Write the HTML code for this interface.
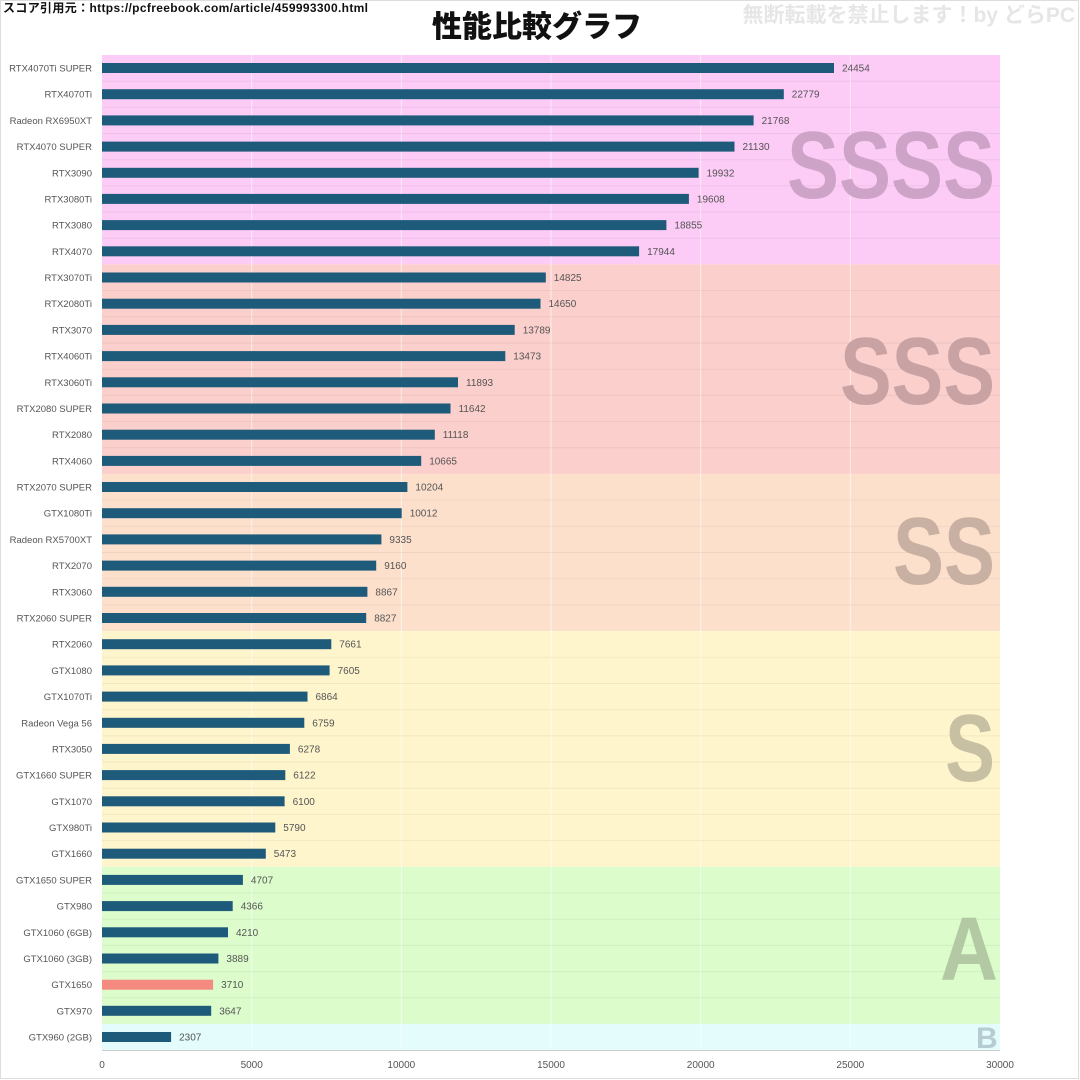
<!DOCTYPE html>
<html><head><meta charset="utf-8"><style>
html,body{margin:0;padding:0;background:#fff}
svg{display:block}
</style></head><body>
<svg width="1080" height="1080" viewBox="0 0 1080 1080" xmlns="http://www.w3.org/2000/svg">
<rect x="0.5" y="0.5" width="1078" height="1078" fill="#fff" stroke="#ddd"/>
<text x="3" y="12" font-family="Liberation Sans, Noto Sans CJK JP, sans-serif" font-size="12" font-weight="bold" fill="#111" textLength="365">スコア引用元：https://pcfreebook.com/article/459993300.html</text>
<text x="537" y="37" text-anchor="middle" font-family="Liberation Sans, Noto Sans CJK JP, sans-serif" font-size="30" font-weight="900" fill="#111">性能比較グラフ</text>
<text x="1075" y="22" text-anchor="end" font-family="Liberation Sans, Noto Sans CJK JP, sans-serif" font-size="21" font-weight="bold" fill="#e6e6e6">無断転載を禁止します！by どらPC</text>
<rect x="102" y="55" width="898" height="209.4" fill="#fccbf6"/>
<rect x="102" y="264.4" width="898" height="209.5" fill="#fbcfcc"/>
<rect x="102" y="473.9" width="898" height="157.2" fill="#fde0cc"/>
<rect x="102" y="631.1" width="898" height="235.7" fill="#fef5cc"/>
<rect x="102" y="866.8" width="898" height="157.1" fill="#dcfccc"/>
<rect x="102" y="1023.9" width="898" height="26.1" fill="#e4fcfc"/>
<g stroke="#ffffff" stroke-opacity="0.6" stroke-width="1">
<line x1="251.7" y1="55" x2="251.7" y2="1050"/><line x1="401.3" y1="55" x2="401.3" y2="1050"/><line x1="551" y1="55" x2="551" y2="1050"/><line x1="700.7" y1="55" x2="700.7" y2="1050"/><line x1="850.3" y1="55" x2="850.3" y2="1050"/>
</g>
<g stroke="#000" stroke-opacity="0.05" stroke-width="1">
<line x1="102" y1="81.1" x2="1000" y2="81.1"/><line x1="102" y1="107.3" x2="1000" y2="107.3"/><line x1="102" y1="133.5" x2="1000" y2="133.5"/><line x1="102" y1="159.7" x2="1000" y2="159.7"/><line x1="102" y1="185.9" x2="1000" y2="185.9"/><line x1="102" y1="212" x2="1000" y2="212"/><line x1="102" y1="238.2" x2="1000" y2="238.2"/><line x1="102" y1="290.6" x2="1000" y2="290.6"/><line x1="102" y1="316.8" x2="1000" y2="316.8"/><line x1="102" y1="343" x2="1000" y2="343"/><line x1="102" y1="369.2" x2="1000" y2="369.2"/><line x1="102" y1="395.4" x2="1000" y2="395.4"/><line x1="102" y1="421.6" x2="1000" y2="421.6"/><line x1="102" y1="447.8" x2="1000" y2="447.8"/><line x1="102" y1="500.1" x2="1000" y2="500.1"/><line x1="102" y1="526.3" x2="1000" y2="526.3"/><line x1="102" y1="552.5" x2="1000" y2="552.5"/><line x1="102" y1="578.7" x2="1000" y2="578.7"/><line x1="102" y1="604.9" x2="1000" y2="604.9"/><line x1="102" y1="657.3" x2="1000" y2="657.3"/><line x1="102" y1="683.5" x2="1000" y2="683.5"/><line x1="102" y1="709.7" x2="1000" y2="709.7"/><line x1="102" y1="735.9" x2="1000" y2="735.9"/><line x1="102" y1="762" x2="1000" y2="762"/><line x1="102" y1="788.2" x2="1000" y2="788.2"/><line x1="102" y1="814.4" x2="1000" y2="814.4"/><line x1="102" y1="840.6" x2="1000" y2="840.6"/><line x1="102" y1="893" x2="1000" y2="893"/><line x1="102" y1="919.2" x2="1000" y2="919.2"/><line x1="102" y1="945.4" x2="1000" y2="945.4"/><line x1="102" y1="971.6" x2="1000" y2="971.6"/><line x1="102" y1="997.8" x2="1000" y2="997.8"/>
</g>
<line x1="102" y1="1050.5" x2="1000" y2="1050.5" stroke="#ccc"/>
<g font-family="Liberation Sans, sans-serif" font-weight="bold">
<text x="787" y="198" font-size="96" fill="#cda3c8" textLength="208" lengthAdjust="spacingAndGlyphs">SSSS</text>
<text x="840" y="404" font-size="96" fill="#c9a3a3" textLength="155" lengthAdjust="spacingAndGlyphs">SSS</text>
<text x="893" y="584" font-size="96" fill="#c8b0a2" textLength="102" lengthAdjust="spacingAndGlyphs">SS</text>
<text x="945" y="781" font-size="96" fill="#c8c0a2" textLength="50" lengthAdjust="spacingAndGlyphs">S</text>
<text x="940" y="980" font-size="90" fill="#b2c9a4" textLength="58" lengthAdjust="spacingAndGlyphs">A</text>
<text x="976" y="1048" font-size="30" fill="#b6ccd2">B</text>
</g>
<g fill="#1e5a7a">
<rect x="102" y="63" width="732" height="10"/>
<rect x="102" y="89.2" width="681.8" height="10"/>
<rect x="102" y="115.4" width="651.6" height="10"/>
<rect x="102" y="141.6" width="632.5" height="10"/>
<rect x="102" y="167.8" width="596.6" height="10"/>
<rect x="102" y="193.9" width="586.9" height="10"/>
<rect x="102" y="220.1" width="564.4" height="10"/>
<rect x="102" y="246.3" width="537.1" height="10"/>
<rect x="102" y="272.5" width="443.8" height="10"/>
<rect x="102" y="298.7" width="438.5" height="10"/>
<rect x="102" y="324.9" width="412.7" height="10"/>
<rect x="102" y="351.1" width="403.3" height="10"/>
<rect x="102" y="377.3" width="356" height="10"/>
<rect x="102" y="403.5" width="348.5" height="10"/>
<rect x="102" y="429.7" width="332.8" height="10"/>
<rect x="102" y="455.9" width="319.2" height="10"/>
<rect x="102" y="482" width="305.4" height="10"/>
<rect x="102" y="508.2" width="299.7" height="10"/>
<rect x="102" y="534.4" width="279.4" height="10"/>
<rect x="102" y="560.6" width="274.2" height="10"/>
<rect x="102" y="586.8" width="265.4" height="10"/>
<rect x="102" y="613" width="264.2" height="10"/>
<rect x="102" y="639.2" width="229.3" height="10"/>
<rect x="102" y="665.4" width="227.6" height="10"/>
<rect x="102" y="691.6" width="205.5" height="10"/>
<rect x="102" y="717.8" width="202.3" height="10"/>
<rect x="102" y="743.9" width="187.9" height="10"/>
<rect x="102" y="770.1" width="183.3" height="10"/>
<rect x="102" y="796.3" width="182.6" height="10"/>
<rect x="102" y="822.5" width="173.3" height="10"/>
<rect x="102" y="848.7" width="163.8" height="10"/>
<rect x="102" y="874.9" width="140.9" height="10"/>
<rect x="102" y="901.1" width="130.7" height="10"/>
<rect x="102" y="927.3" width="126" height="10"/>
<rect x="102" y="953.5" width="116.4" height="10"/>
<rect x="102" y="979.7" width="111.1" height="10" fill="#f58a80"/>
<rect x="102" y="1005.8" width="109.2" height="10"/>
<rect x="102" y="1032" width="69.1" height="10"/>
</g>
<g font-family="Liberation Sans, sans-serif" font-size="9.5" fill="#555" text-anchor="end">
<text x="92" y="71.5">RTX4070Ti SUPER</text>
<text x="92" y="97.7">RTX4070Ti</text>
<text x="92" y="123.9">Radeon RX6950XT</text>
<text x="92" y="150.1">RTX4070 SUPER</text>
<text x="92" y="176.3">RTX3090</text>
<text x="92" y="202.4">RTX3080Ti</text>
<text x="92" y="228.6">RTX3080</text>
<text x="92" y="254.8">RTX4070</text>
<text x="92" y="281">RTX3070Ti</text>
<text x="92" y="307.2">RTX2080Ti</text>
<text x="92" y="333.4">RTX3070</text>
<text x="92" y="359.6">RTX4060Ti</text>
<text x="92" y="385.8">RTX3060Ti</text>
<text x="92" y="412">RTX2080 SUPER</text>
<text x="92" y="438.2">RTX2080</text>
<text x="92" y="464.4">RTX4060</text>
<text x="92" y="490.5">RTX2070 SUPER</text>
<text x="92" y="516.7">GTX1080Ti</text>
<text x="92" y="542.9">Radeon RX5700XT</text>
<text x="92" y="569.1">RTX2070</text>
<text x="92" y="595.3">RTX3060</text>
<text x="92" y="621.5">RTX2060 SUPER</text>
<text x="92" y="647.7">RTX2060</text>
<text x="92" y="673.9">GTX1080</text>
<text x="92" y="700.1">GTX1070Ti</text>
<text x="92" y="726.3">Radeon Vega 56</text>
<text x="92" y="752.4">RTX3050</text>
<text x="92" y="778.6">GTX1660 SUPER</text>
<text x="92" y="804.8">GTX1070</text>
<text x="92" y="831">GTX980Ti</text>
<text x="92" y="857.2">GTX1660</text>
<text x="92" y="883.4">GTX1650 SUPER</text>
<text x="92" y="909.6">GTX980</text>
<text x="92" y="935.8">GTX1060 (6GB)</text>
<text x="92" y="962">GTX1060 (3GB)</text>
<text x="92" y="988.2">GTX1650</text>
<text x="92" y="1014.3">GTX970</text>
<text x="92" y="1040.5">GTX960 (2GB)</text>
</g>
<g font-family="Liberation Sans, sans-serif" font-size="10" fill="#555">
<text x="842" y="71.5">24454</text>
<text x="791.8" y="97.7">22779</text>
<text x="761.6" y="123.9">21768</text>
<text x="742.5" y="150.1">21130</text>
<text x="706.6" y="176.3">19932</text>
<text x="696.9" y="202.4">19608</text>
<text x="674.4" y="228.6">18855</text>
<text x="647.1" y="254.8">17944</text>
<text x="553.8" y="281">14825</text>
<text x="548.5" y="307.2">14650</text>
<text x="522.7" y="333.4">13789</text>
<text x="513.3" y="359.6">13473</text>
<text x="466" y="385.8">11893</text>
<text x="458.5" y="412">11642</text>
<text x="442.8" y="438.2">11118</text>
<text x="429.2" y="464.4">10665</text>
<text x="415.4" y="490.5">10204</text>
<text x="409.7" y="516.7">10012</text>
<text x="389.4" y="542.9">9335</text>
<text x="384.2" y="569.1">9160</text>
<text x="375.4" y="595.3">8867</text>
<text x="374.2" y="621.5">8827</text>
<text x="339.3" y="647.7">7661</text>
<text x="337.6" y="673.9">7605</text>
<text x="315.5" y="700.1">6864</text>
<text x="312.3" y="726.3">6759</text>
<text x="297.9" y="752.4">6278</text>
<text x="293.3" y="778.6">6122</text>
<text x="292.6" y="804.8">6100</text>
<text x="283.3" y="831">5790</text>
<text x="273.8" y="857.2">5473</text>
<text x="250.9" y="883.4">4707</text>
<text x="240.7" y="909.6">4366</text>
<text x="236" y="935.8">4210</text>
<text x="226.4" y="962">3889</text>
<text x="221.1" y="988.2">3710</text>
<text x="219.2" y="1014.3">3647</text>
<text x="179.1" y="1040.5">2307</text>
</g>
<g font-family="Liberation Sans, sans-serif" font-size="10" fill="#555" text-anchor="middle">
<text x="102" y="1068">0</text>
<text x="251.7" y="1068">5000</text>
<text x="401.3" y="1068">10000</text>
<text x="551" y="1068">15000</text>
<text x="700.7" y="1068">20000</text>
<text x="850.3" y="1068">25000</text>
<text x="1000" y="1068">30000</text>
</g>
</svg>
</body></html>
